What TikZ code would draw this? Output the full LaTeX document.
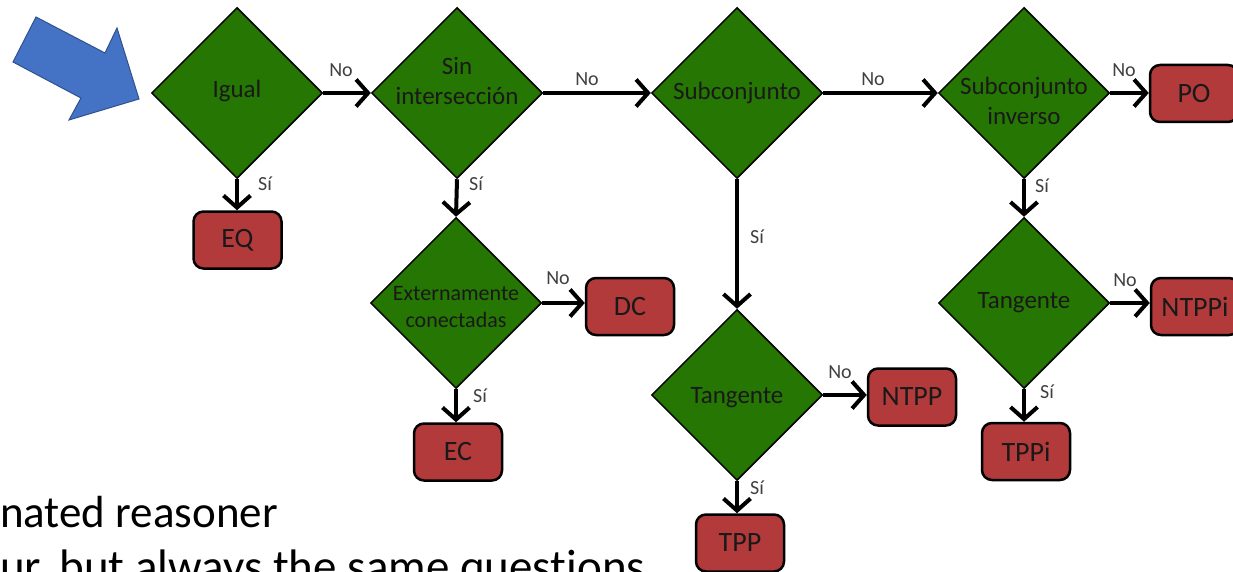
\documentclass[tikz,border=0pt]{standalone}
\usepackage{fontspec}
\setmainfont{Carlito}[Ligatures={NoCommon}]
\usetikzlibrary{shapes.geometric,arrows.meta}

\definecolor{decgreen}{RGB}{38,118,4}
\definecolor{endred}{RGB}{178,58,58}
\definecolor{pointblue}{RGB}{68,114,196}
\definecolor{pointedge}{RGB}{47,82,143}
\definecolor{lblgray}{RGB}{64,64,64}

\begin{document}
\begin{tikzpicture}[x=1pt, y=-1pt,
  decision/.style={diamond, aspect=1, draw=black, line width=1.5pt, fill=decgreen,
    minimum width=171pt, minimum height=171pt, inner sep=0pt},
  dtext/.style={font=\fontsize{25}{30}\selectfont, text=black!90, align=center, inner sep=0pt},
  dsmall/.style={font=\fontsize{22}{27}\selectfont, text=black!90, align=center, inner sep=0pt},
  outcome/.style={rectangle, rounded corners=10pt, draw=black, line width=2.5pt, fill=endred,
    minimum width=88pt, minimum height=57pt, inner sep=0pt,
    font=\fontsize{28}{32}\selectfont, text=black!90},
  flow/.style={line width=4pt, -{Straight Barb[length=12pt, width=27pt, line width=4pt]}},
  branch/.style={font=\fontsize{20}{24}\selectfont, text=lblgray, inner sep=0pt},
  slidetext/.style={text=black, inner sep=0pt, anchor=base west},
]
\useasboundingbox (0,0) rectangle (1233,572);
\clip (0,0) rectangle (1233,572);

% entry pointer
\path[draw=pointedge, fill=pointblue, line width=1pt, line join=miter]
  (36,17) -- (105,53) -- (117,28) -- (139,99) -- (69,120) -- (81,98) -- (13,62) -- cycle;

% decisions
\node[decision, label={[dtext, yshift=2pt]center:Igual}] (d1) at (237,93) {};
\node[decision, label={[dtext, yshift=12pt]center:Sin\\intersección}] (d2) at (457,93) {};
\node[decision, label={[dtext]center:Subconjunto}] (d3) at (737,93) {};
\node[decision, label={[dtext, yshift=-8pt]center:Subconjunto\\inverso}] (d4) at (1024,93) {};
\node[decision, label={[dsmall, yshift=-4pt]center:Externamente\\conectadas}] (d5) at (456,303) {};
\node[decision, label={[dtext, yshift=-3pt]center:Tangente}] (d6) at (737,395) {};
\node[decision, label={[dtext]center:Tangente}] (d7) at (1024,303) {};

% outcomes
\node[outcome] (eq)    at (237.5,240) {EQ};
\node[outcome] (dc)    at (630,306.5) {DC};
\node[outcome] (ec)    at (458,452)   {EC};
\node[outcome] (ntpp)  at (912,397)   {NTPP};
\node[outcome] (tpp)   at (740,543)   {TPP};
\node[outcome] (po)    at (1194,93.5) {PO};
\node[outcome] (ntppi) at (1195,306.5) {NTPPi};
\node[outcome] (tppi)  at (1026,451.5) {TPPi};

% connectors
\draw[flow] (d1.east) -- (d2.west);
\draw[flow] (d2.east) -- (d3.west);
\draw[flow] (d3.east) -- (d4.west);
\draw[flow] (d4.east) -- (d4.east -| po.west);
\draw[flow] (d1.south) -- (d1.south |- eq.north);
\draw[flow] (d2.south) -- (d5.north);
\draw[flow] (d5.east) -- (d5.east -| dc.west);
\draw[flow] (d5.south) -- (d5.south |- ec.north);
\draw[flow] (d3.south) -- (d6.north);
\draw[flow] (d6.east) -- (d6.east -| ntpp.west);
\draw[flow] (d6.south) -- (d6.south |- tpp.north);
\draw[flow] (d4.south) -- (d7.north);
\draw[flow] (d7.east) -- (d7.east -| ntppi.west);
\draw[flow] (d7.south) -- (d7.south |- tppi.north);

% branch labels
\node[branch] (n1) at (341,70) {No};
\node[branch] (n2) at (587,79) {No};
\node[branch] (n3) at (873,79) {No};
\node[branch] (n4) at (1124,70) {No};
\node[branch] (n5) at (558,278) {No};
\node[branch] (n6) at (840,372) {No};
\node[branch] (n7) at (1125,280) {No};
\node[branch] (s1) at (265,184) {Sí};
\node[branch] (s2) at (476,184) {Sí};
\node[branch] (s3) at (757,237) {Sí};
\node[branch] (s4) at (1042,186) {Sí};
\node[branch] (s5) at (480,396) {Sí};
\node[branch] (s6) at (757,488) {Sí};
\node[branch] (s7) at (1047,392) {Sí};

% slide body text
\node[slidetext, font=\fontsize{45}{54}\selectfont] (line1) at (0,527) {nated reasoner};
\node[slidetext, font=\fontsize{47}{54}\selectfont] (line2) at (0,582) {ur, but always the same questions};
\end{tikzpicture}
\end{document}
